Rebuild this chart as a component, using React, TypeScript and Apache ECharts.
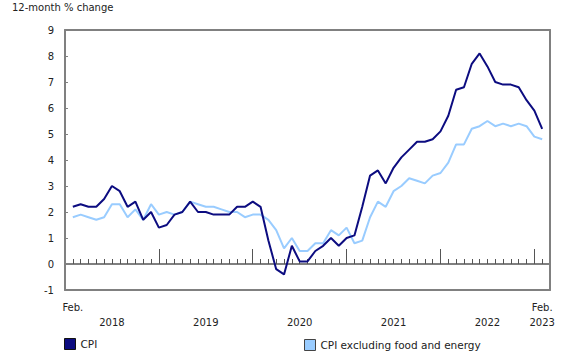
import React, { useEffect, useRef } from "react";
import * as echarts from "echarts";

// Months from Feb. 2018 to Feb. 2023 (61 monthly observations)
const startYear = 2018;
const startMonth = 2;
const monthCount = 61;
const months: string[] = [];
for (let i = 0; i < monthCount; i++) {
  const m = startMonth - 1 + i;
  const y = startYear + Math.floor(m / 12);
  const mm = (m % 12) + 1;
  months.push(`${y}-${mm < 10 ? "0" + mm : mm}`);
}

const cpi: number[] = [
  2.2, 2.3, 2.2, 2.2, 2.5, 3.0, 2.8, 2.2, 2.4, 1.7, 2.0,
  1.4, 1.5, 1.9, 2.0, 2.4, 2.0, 2.0, 1.9, 1.9, 1.9, 2.2, 2.2,
  2.4, 2.2, 0.9, -0.2, -0.4, 0.7, 0.1, 0.1, 0.5, 0.7, 1.0, 0.7,
  1.0, 1.1, 2.2, 3.4, 3.6, 3.1, 3.7, 4.1, 4.4, 4.7, 4.7, 4.8,
  5.1, 5.7, 6.7, 6.8, 7.7, 8.1, 7.6, 7.0, 6.9, 6.9, 6.8, 6.3,
  5.9, 5.2,
];

const cpiExFoodEnergy: number[] = [
  1.8, 1.9, 1.8, 1.7, 1.8, 2.3, 2.3, 1.8, 2.1, 1.7, 2.3,
  1.9, 2.0, 1.9, 2.0, 2.4, 2.3, 2.2, 2.2, 2.1, 2.0, 2.0, 1.8,
  1.9, 1.9, 1.7, 1.3, 0.6, 1.0, 0.5, 0.5, 0.8, 0.8, 1.3, 1.1,
  1.4, 0.8, 0.9, 1.8, 2.4, 2.2, 2.8, 3.0, 3.3, 3.2, 3.1, 3.4,
  3.5, 3.9, 4.6, 4.6, 5.2, 5.3, 5.5, 5.3, 5.4, 5.3, 5.4, 5.3,
  4.9, 4.8,
];

const yearLabels: string[] = ["2018", "2019", "2020", "2021", "2022"];
const lastYearLabel = "2023";
const monthAbbrev = "Feb.";
const yTickMin = -1;
const yTickMax = 9;

const seriesNames = ["CPI", "CPI excluding food and energy"];
const titleText = "12-month % change";

const FONT = "DejaVu Sans";
const GRAY = "#808080";

export default function App() {
  const ref = useRef<HTMLDivElement>(null);

  useEffect(() => {
    if (!ref.current) return;
    const chart = echarts.init(ref.current, undefined, { renderer: "svg" });

    const idx = months.map((_, i) => i);
    const lastIdx = months.length - 1;
    // Year labels centred under July of each year
    const yearPos = yearLabels.map((y) => months.indexOf(`${y}-07`));
    const janPos = months
      .map((m, i) => (m.endsWith("-01") ? i : -1))
      .filter((i) => i >= 0);

    const labelMap: Record<number, string> = {};
    labelMap[0] = monthAbbrev;
    yearPos.forEach((p, k) => {
      labelMap[p] = "\n" + yearLabels[k];
    });
    labelMap[lastIdx] = monthAbbrev + "\n" + lastYearLabel;

    const xBase = {
      type: "value" as const,
      min: -1,
      max: monthCount,
      splitLine: { show: false },
    };

    chart.setOption({
      animation: false,
      textStyle: { fontFamily: FONT },
      title: {
        text: titleText,
        left: 12,
        top: 2,
        padding: 0,
        textStyle: {
          fontFamily: FONT,
          fontSize: 10,
          fontWeight: "normal",
          color: "#222",
        },
      },
      grid: {
        left: 65,
        right: 30,
        top: 30,
        bottom: 70,
        containLabel: false,
      },
      legend: [
        {
          data: [seriesNames[0]],
          left: 64,
          top: 338,
          padding: 0,
          icon: "rect",
          itemWidth: 11,
          itemHeight: 11,
          itemStyle: { borderColor: "#111", borderWidth: 1 },
          textStyle: { fontFamily: FONT, fontSize: 10.5, color: "#222" },
        },
        {
          data: [seriesNames[1]],
          left: 304,
          top: 339,
          padding: 0,
          icon: "rect",
          itemWidth: 11,
          itemHeight: 11,
          itemStyle: { borderColor: "#444", borderWidth: 1 },
          textStyle: { fontFamily: FONT, fontSize: 10.5, color: "#222" },
        },
      ],
      xAxis: [
        {
          ...xBase,
          position: "bottom",
          axisLine: {
            show: true,
            onZero: true,
            onZeroAxisIndex: 0,
            lineStyle: { color: GRAY, width: 2 },
          },
          axisTick: {
            show: true,
            inside: true,
            length: 5,
            customValues: idx,
            lineStyle: { color: "#555", width: 1 },
          },
          axisLabel: { show: false },
        },
        {
          ...xBase,
          position: "bottom",
          axisLine: {
            show: true,
            onZero: true,
            onZeroAxisIndex: 0,
            lineStyle: { color: GRAY, width: 2 },
          },
          axisTick: {
            show: true,
            inside: true,
            length: 15,
            customValues: janPos,
            lineStyle: { color: "#555", width: 1 },
          },
          axisLabel: { show: false },
        },
        {
          ...xBase,
          position: "bottom",
          axisLine: {
            show: true,
            onZero: false,
            lineStyle: { color: GRAY, width: 2 },
          },
          axisTick: { show: false },
          axisLabel: {
            show: true,
            customValues: [0, ...yearPos, lastIdx],
            formatter: (v: number) => labelMap[v] ?? "",
            margin: 10,
            fontFamily: FONT,
            fontSize: 10,
            lineHeight: 15,
            color: "#222",
          },
        },
        {
          ...xBase,
          position: "top",
          axisLine: {
            show: true,
            onZero: false,
            lineStyle: { color: GRAY, width: 2 },
          },
          axisTick: { show: false },
          axisLabel: { show: false },
        },
      ],
      yAxis: [
        {
          type: "value",
          min: yTickMin,
          max: yTickMax,
          interval: 1,
          position: "left",
          splitLine: { show: false },
          axisLine: {
            show: true,
            onZero: false,
            lineStyle: { color: GRAY, width: 2 },
          },
          axisTick: {
            show: true,
            inside: true,
            length: 3,
            lineStyle: { color: GRAY, width: 1 },
          },
          axisLabel: {
            margin: 11,
            fontFamily: FONT,
            fontSize: 10,
            color: "#222",
          },
        },
        {
          type: "value",
          min: yTickMin,
          max: yTickMax,
          interval: 1,
          position: "right",
          splitLine: { show: false },
          axisLine: {
            show: true,
            onZero: false,
            lineStyle: { color: GRAY, width: 2 },
          },
          axisTick: { show: false },
          axisLabel: { show: false },
        },
      ],
      series: [
        {
          name: seriesNames[1],
          type: "line",
          xAxisIndex: 0,
          yAxisIndex: 0,
          symbol: "none",
          color: "#99ccff",
          lineStyle: { color: "#99ccff", width: 2 },
          data: cpiExFoodEnergy.map((v, i) => [i, v]),
        },
        {
          name: seriesNames[0],
          type: "line",
          xAxisIndex: 0,
          yAxisIndex: 0,
          symbol: "none",
          color: "#0c0c80",
          lineStyle: { color: "#0c0c80", width: 2 },
          data: cpi.map((v, i) => [i, v]),
        },
      ],
    });

    return () => chart.dispose();
  }, []);

  return (
    <div
      ref={ref}
      style={{ position: "absolute", left: 0, top: 0, width: 580, height: 360 }}
    />
  );
}
